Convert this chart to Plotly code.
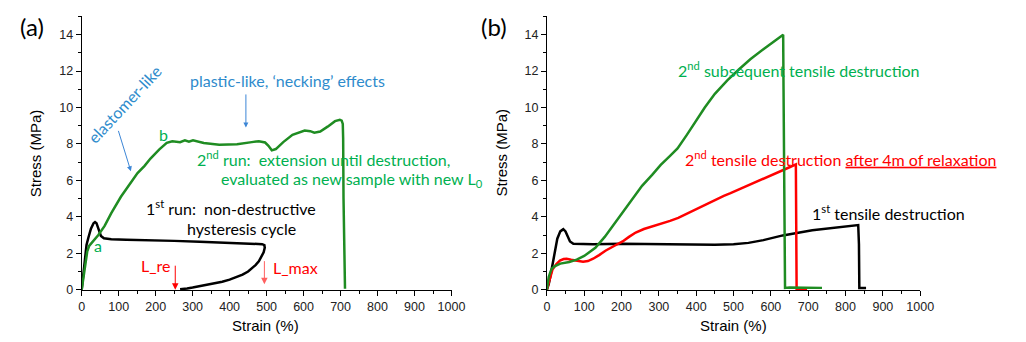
import plotly.graph_objects as go

# ---------------- data ----------------
# panel (a): 1st run, hysteresis cycle (black)
a_run1_strain = [0, 3, 6, 10, 13, 18, 25, 32, 36, 40, 45, 52, 60, 80, 120, 186, 250, 319, 400, 460, 488,
                 494, 495, 492, 486, 479, 470, 460, 450, 435, 420, 400, 380, 360, 340, 319, 300, 285, 266]
a_run1_stress = [0, 0.5, 1.2, 2.0, 2.45, 2.85, 3.35, 3.65, 3.71, 3.65, 3.3, 2.95, 2.82, 2.77, 2.74, 2.72,
                 2.68, 2.63, 2.57, 2.53, 2.5, 2.45, 2.3, 2.05, 1.8, 1.56, 1.35, 1.17, 1.0, 0.83, 0.7, 0.55,
                 0.44, 0.35, 0.27, 0.2, 0.12, 0.07, 0.02]

# panel (a): 2nd run, extension until destruction (green)
a_run2_strain = [0, 5, 10, 15, 20, 30, 45, 62, 80, 106, 133, 151, 170, 186, 210, 230, 245, 266, 279, 290,
                 301, 330, 372, 420, 460, 479, 496, 505, 514, 525, 545, 570, 603, 618, 629, 645, 665, 685,
                 698, 703, 706, 707, 708, 710, 712]
a_run2_stress = [0, 0.8, 1.6, 2.1, 2.4, 2.65, 3.0, 3.5, 4.2, 5.1, 5.86, 6.4, 6.8, 7.2, 7.7, 8.06, 8.15, 8.1,
                 8.2, 8.12, 8.2, 8.05, 7.96, 7.98, 8.1, 8.15, 8.08, 7.9, 7.65, 7.72, 8.1, 8.5, 8.74, 8.7,
                 8.62, 8.68, 8.95, 9.25, 9.33, 9.28, 9.1, 8.3, 5.0, 0.1, 0.05]

# panel (b): 1st tensile destruction (black)
b_first_strain = [0, 5, 10, 15, 20, 28, 36, 44, 50, 56, 62, 71, 90, 124, 200, 300, 400, 450, 500, 540,
                  580, 632, 711, 780, 826, 834, 836, 837, 840, 855]
b_first_stress = [0, 0.3, 0.8, 1.4, 2.0, 2.8, 3.2, 3.32, 3.2, 2.9, 2.65, 2.52, 2.5, 2.5, 2.52, 2.5, 2.45,
                  2.47, 2.5, 2.57, 2.72, 2.98, 3.26, 3.43, 3.55, 3.55, 2.5, 0.1, 0.1, 0.1]

# panel (b): 2nd subsequent tensile destruction (green)
b_second_strain = [0, 5, 10, 14, 22, 36, 60, 80, 100, 115, 130, 155, 180, 203, 230, 255, 282, 305, 330,
                   350, 375, 400, 423, 450, 484, 515, 545, 580, 610, 633, 634, 636, 638, 650, 700, 737]
b_second_stress = [0, 0.7, 1.0, 1.17, 1.3, 1.43, 1.52, 1.65, 1.85, 2.06, 2.3, 2.9, 3.6, 4.3, 5.0, 5.7,
                   6.3, 6.85, 7.35, 7.75, 8.5, 9.3, 10.0, 10.75, 11.5, 12.1, 12.65, 13.2, 13.65, 14.0,
                   11.0, 4.0, 0.1, 0.12, 0.12, 0.1]

# panel (b): 2nd tensile destruction after 4 min relaxation (red)
b_relax_strain = [0, 8, 15, 25, 35, 45, 53, 65, 80, 97, 110, 124, 140, 158, 180, 203, 220, 238, 260, 280,
                  300, 330, 352, 380, 405, 440, 474, 492, 540, 580, 620, 650, 667, 668, 669, 680, 697]
b_relax_stress = [0, 0.6, 1.1, 1.4, 1.6, 1.68, 1.7, 1.64, 1.57, 1.53, 1.57, 1.7, 1.9, 2.15, 2.4, 2.65, 2.9,
                  3.14, 3.33, 3.45, 3.59, 3.78, 3.94, 4.22, 4.5, 4.85, 5.15, 5.3, 5.72, 6.08, 6.45, 6.72,
                  6.88, 3.0, 0.05, 0.05, 0.05]

x_ticks = [0, 100, 200, 300, 400, 500, 600, 700, 800, 900, 1000]
y_ticks = [0, 2, 4, 6, 8, 10, 12, 14]

# ---------------- styling ----------------
GREEN_LINE = "#1f8c22"
GREEN_TEXT = "#00b050"
BLUE_TEXT = "#2e8bcc"
RED = "#ff0000"
ANN_FONT = "Lato"
TICK_FONT = "Liberation Sans, Arial"
LW = 2.5
AS = 16

fig = go.Figure()
fig.add_trace(go.Scatter(x=a_run1_strain, y=a_run1_stress, mode="lines",
                         line=dict(color="black", width=LW), xaxis="x", yaxis="y"))
fig.add_trace(go.Scatter(x=a_run2_strain, y=a_run2_stress, mode="lines",
                         line=dict(color=GREEN_LINE, width=LW), xaxis="x", yaxis="y"))
fig.add_trace(go.Scatter(x=b_first_strain, y=b_first_stress, mode="lines",
                         line=dict(color="black", width=LW), xaxis="x2", yaxis="y2"))
fig.add_trace(go.Scatter(x=b_relax_strain, y=b_relax_stress, mode="lines",
                         line=dict(color=RED, width=LW), xaxis="x2", yaxis="y2"))
fig.add_trace(go.Scatter(x=b_second_strain, y=b_second_stress, mode="lines",
                         line=dict(color=GREEN_LINE, width=LW), xaxis="x2", yaxis="y2"))

ydom = [0.1336, 0.951]
common_x = dict(range=[0, 1000], tickvals=x_ticks, showline=True, linecolor="black", linewidth=1,
                ticks="outside", ticklen=5, tickwidth=1, tickcolor="black", showgrid=False, zeroline=False,
                tickfont=dict(family=TICK_FONT, size=12.5, color="#222"),
                minor=dict(ticks="outside", ticklen=3, dtick=50, tick0=0, tickcolor="black", showgrid=False))
common_y = dict(range=[-0.03, 15], tickvals=y_ticks, showline=True, linecolor="black", linewidth=1,
                ticks="outside", ticklen=5, tickwidth=1, tickcolor="black", showgrid=False, zeroline=False,
                tickfont=dict(family=TICK_FONT, size=12.5, color="#222"),
                minor=dict(ticks="outside", ticklen=3, dtick=1, tick0=0, tickcolor="black", showgrid=False),
                domain=ydom)

fig.update_layout(
    width=1026, height=342, margin=dict(l=0, r=0, t=0, b=0),
    paper_bgcolor="white", plot_bgcolor="white", showlegend=False,
    xaxis=dict(domain=[0.078, 0.4445], anchor="y", **common_x),
    yaxis=dict(anchor="x", **common_y),
    xaxis2=dict(domain=[0.539, 0.909], anchor="y2", **common_x),
    yaxis2=dict(anchor="x2", **common_y),
)

ann = []
def txt(text, x, y, color, size=AS, xref="x", yref="y", angle=0, family=ANN_FONT, xanchor="center"):
    ann.append(dict(text=text, x=x, y=y, xref=xref, yref=yref, showarrow=False, textangle=angle,
                    xanchor=xanchor, yanchor="middle", font=dict(family=family, size=size, color=color)))

def arrow(x, y, ax, ay, color, xref="x", yref="y", width=1, head=2, size=1):
    ann.append(dict(text="", x=x, y=y, ax=ax, ay=ay, xref=xref, yref=yref, axref=xref, ayref=yref,
                    showarrow=True, arrowhead=head, arrowsize=size, arrowwidth=width, arrowcolor=color))

NB = "\u00a0"
# panel labels and axis titles
txt("(a)", 29 / 1026, 1 - 27 / 342, "black", size=24, xref="paper", yref="paper", family="Lato")
txt("(b)", 499 / 1026, 1 - 27 / 342, "black", size=24, xref="paper", yref="paper", family="Lato")
txt("Stress (MPa)", 33 / 1026, 1 - 156 / 342, "black", size=15, xref="paper", yref="paper", angle=-90, family=TICK_FONT)
txt("Stress (MPa)", 507 / 1026, 1 - 156 / 342, "black", size=15, xref="paper", yref="paper", angle=-90, family=TICK_FONT)
txt("Strain (%)", 267 / 1026, 1 - 332 / 342, "black", size=15, xref="paper", yref="paper", family=TICK_FONT)
txt("Strain (%)", 743 / 1026, 1 - 332 / 342, "black", size=15, xref="paper", yref="paper", family=TICK_FONT)

# panel (a) annotations
txt("elastomer-like", 117, 10.2, BLUE_TEXT, angle=-47)
arrow(133, 6.5, 98, 8.8, "#3c86d6")
txt("plastic-like, \u2018necking\u2019 effects", 556, 11.5, BLUE_TEXT)
arrow(444, 8.9, 444, 10.8, "#3c86d6")
txt("b", 221, 8.5, GREEN_TEXT)
txt("a", 43, 2.4, GREEN_TEXT)
txt("2<sup>nd</sup> run:" + NB + " extension until destruction,", 654, 7.19, GREEN_TEXT)
txt("evaluated as new sample with new L<sub>0</sub>", 731, 6.06, GREEN_TEXT)
txt("1<sup>st</sup> run:" + NB + " non-destructive", 404, 4.5, "black")
txt("hysteresis cycle", 431, 3.37, "black")
txt("L_re", 200, 1.33, RED)
arrow(253, 0.0, 253, 1.4, RED, width=1, head=2, size=1.3)
txt("L_max", 578, 1.22, RED)
arrow(494, 0.3, 494, 1.65, "#ff6060", width=1, head=2, size=1.3)

# panel (b) annotations
txt("2<sup>nd</sup> subsequent tensile destruction", 676, 12.08, GREEN_TEXT, xref="x2", yref="y2")
txt("2<sup>nd</sup> tensile destruction <span style='text-decoration:underline'>after 4m of relaxation</span>",
    787, 7.19, RED, xref="x2", yref="y2")
txt("1<sup>st</sup> tensile destruction", 916, 4.23, "black", xref="x2", yref="y2")

fig.update_layout(annotations=ann)
fig.write_html("out.html")
